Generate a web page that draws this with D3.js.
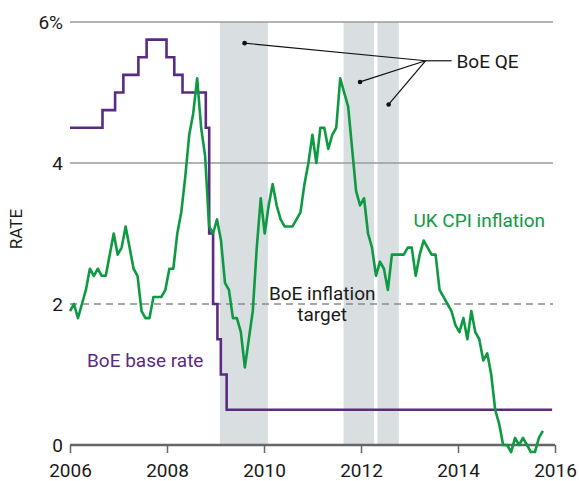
<html>
<head>
<meta charset="utf-8">
<style>
  body { margin: 0; background: #fff; }
  text { font-family: Roboto, "Noto Sans", sans-serif; }
</style>
</head>
<body>
<script src="https://cdnjs.cloudflare.com/ajax/libs/d3/7.8.5/d3.min.js"></script>
<script>
var width = 579;
var height = 481;

// UK CPI inflation, monthly Jan 2006 - Dec 2015 (%)
var cpi = [
  1.9, 2.0, 1.8, 2.0, 2.2, 2.5, 2.4, 2.5, 2.4, 2.4, 2.7, 3.0,
  2.7, 2.8, 3.1, 2.8, 2.5, 2.4, 1.9, 1.8, 1.8, 2.1, 2.1, 2.1,
  2.2, 2.5, 2.5, 3.0, 3.3, 3.8, 4.4, 4.7, 5.2, 4.5, 4.1, 3.1,
  3.0, 3.2, 2.9, 2.3, 2.2, 1.8, 1.8, 1.6, 1.1, 1.5, 1.9, 2.8,
  3.5, 3.0, 3.4, 3.7, 3.4, 3.2, 3.1, 3.1, 3.1, 3.2, 3.3, 3.7,
  4.0, 4.4, 4.0, 4.5, 4.5, 4.2, 4.4, 4.5, 5.2, 5.0, 4.8, 4.2,
  3.6, 3.4, 3.5, 3.0, 2.8, 2.4, 2.6, 2.5, 2.2, 2.7, 2.7, 2.7,
  2.7, 2.8, 2.8, 2.4, 2.7, 2.9, 2.8, 2.7, 2.7, 2.2, 2.1, 2.0,
  1.9, 1.7, 1.6, 1.8, 1.5, 1.9, 1.6, 1.5, 1.2, 1.3, 1.0, 0.5,
  0.3, 0.0, 0.0, -0.1, 0.1, 0.0, 0.1, 0.0, -0.1, -0.1, 0.1, 0.2
];

// BoE base rate: date of change (decimal year) and new rate
var rateDates = [2006.0, 2006.67, 2006.93, 2007.10, 2007.41, 2007.58, 2007.99, 2008.15, 2008.32,
                 2008.80, 2008.87, 2008.95, 2009.04, 2009.11, 2009.23, 2015.94];
var rateValues = [4.5, 4.75, 5.0, 5.25, 5.5, 5.75, 5.5, 5.25, 5.0,
                  4.5, 3.0, 2.0, 1.5, 1.0, 0.5, 0.5];

// QE periods
var qeStart = [2009.09, 2011.64, 2012.34];
var qeEnd = [2010.08, 2012.27, 2012.78];

var yTicks = [0, 2, 4, 6];
var xTicks = [2006, 2008, 2010, 2012, 2014, 2016];
var target = 2;

var green = "#0e9a43";
var purple = "#5b2a83";
var fs = "19px";

var svg = d3.select("body").append("svg")
  .attr("width", width)
  .attr("height", height);

var x = d3.scaleLinear().domain([2006, 2016]).range([70, 555]);
var y = d3.scaleLinear().domain([0, 6]).range([445, 22]);
// monthly points as drawn in the source run slightly short of the year ticks
var xm = d3.scaleLinear().domain([0, cpi.length - 1]).range([x(2006), x(2015.75)]);

// QE bands
svg.selectAll("rect.qe")
  .data(d3.zip(qeStart, qeEnd))
  .enter().append("rect")
  .attr("class", "qe")
  .attr("x", function(d) { return x(d[0]); })
  .attr("width", function(d) { return x(d[1]) - x(d[0]); })
  .attr("y", y(6))
  .attr("height", y(0) - y(6))
  .attr("fill", "#d9dfe1");

// gridlines
svg.selectAll("line.grid")
  .data(yTicks.filter(function(d) { return d > 0; }))
  .enter().append("line")
  .attr("class", "grid")
  .attr("x1", x(2006)).attr("x2", 553)
  .attr("y1", function(d) { return y(d); })
  .attr("y2", function(d) { return y(d); })
  .attr("stroke", function(d) { return d == target ? "#8a8a8a" : "#9a9a9a"; })
  .attr("stroke-width", 1.3)
  .attr("stroke-dasharray", function(d) { return d == target ? "7,5" : null; });

// y labels
svg.selectAll("text.ylab")
  .data(yTicks)
  .enter().append("text")
  .attr("class", "ylab")
  .attr("x", 63)
  .attr("y", function(d) { return y(d); })
  .attr("dy", "0.36em")
  .attr("text-anchor", "end")
  .style("font-size", fs)
  .attr("fill", "#1a1a1a")
  .text(function(d) { return d == 6 ? "6%" : d; });

svg.append("text")
  .attr("transform", "translate(22,229) rotate(-90)")
  .attr("text-anchor", "middle")
  .style("font-size", "17px")
  .attr("fill", "#1a1a1a")
  .text("RATE");

// x axis
var xAxis = svg.append("g")
  .attr("transform", "translate(0," + y(0) + ")")
  .call(d3.axisBottom(x).tickValues(xTicks).tickFormat(d3.format("d")).tickSize(8).tickPadding(11));
xAxis.select(".domain").attr("stroke", "#666").attr("stroke-width", 2.5).attr("d", "M" + x(2006) + ",0H" + x(2016));
xAxis.selectAll(".tick line").attr("stroke", "#666").attr("stroke-width", 1.5);
xAxis.selectAll(".tick text").style("font-size", fs).attr("fill", "#1a1a1a")
  .style("font-family", "Roboto, 'Noto Sans', sans-serif");

// base rate
var rateLine = d3.line()
  .x(function(d) { return x(d[0]); })
  .y(function(d) { return y(d[1]); })
  .curve(d3.curveStepAfter);
svg.append("path")
  .datum(d3.zip(rateDates, rateValues))
  .attr("d", rateLine)
  .attr("fill", "none")
  .attr("stroke", purple)
  .attr("stroke-width", 2.6);

// CPI
var cpiLine = d3.line()
  .x(function(d, i) { return xm(i); })
  .y(function(d) { return y(d); });
svg.append("path")
  .datum(cpi)
  .attr("d", cpiLine)
  .attr("fill", "none")
  .attr("stroke", green)
  .attr("stroke-width", 2.6)
  .attr("stroke-linejoin", "round");

// labels
svg.append("text")
  .attr("x", x(2013.08)).attr("y", 227)
  .style("font-size", fs)
  .attr("fill", green)
  .text("UK CPI inflation");
svg.append("text")
  .attr("x", x(2006.35)).attr("y", 367)
  .style("font-size", fs)
  .attr("fill", purple)
  .text("BoE base rate");
svg.append("text")
  .attr("x", x(2011.2)).attr("y", 300)
  .attr("text-anchor", "middle")
  .style("font-size", fs)
  .attr("fill", "#1a1a1a")
  .text("BoE inflation");
svg.append("text")
  .attr("x", x(2011.2)).attr("y", 321)
  .attr("text-anchor", "middle")
  .style("font-size", fs)
  .attr("fill", "#1a1a1a")
  .text("target");

// QE callout
var hub = [2013.33, 5.45];
var dots = [[2009.6, 5.7], [2011.98, 5.15], [2012.57, 4.83]];
svg.selectAll("line.call")
  .data(dots)
  .enter().append("line")
  .attr("class", "call")
  .attr("x1", x(hub[0])).attr("y1", y(hub[1]))
  .attr("x2", function(d) { return x(d[0]); })
  .attr("y2", function(d) { return y(d[1]); })
  .attr("stroke", "#111").attr("stroke-width", 1.2);
svg.append("line")
  .attr("x1", x(hub[0])).attr("y1", y(hub[1]))
  .attr("x2", x(2013.87)).attr("y2", y(hub[1]))
  .attr("stroke", "#111").attr("stroke-width", 1.2);
svg.selectAll("circle.call")
  .data(dots)
  .enter().append("circle")
  .attr("cx", function(d) { return x(d[0]); })
  .attr("cy", function(d) { return y(d[1]); })
  .attr("r", 2.3)
  .attr("fill", "#111");
svg.append("text")
  .attr("x", x(2013.97)).attr("y", y(hub[1]))
  .attr("dy", "0.36em")
  .style("font-size", fs)
  .attr("fill", "#1a1a1a")
  .text("BoE QE");
</script>
</body>
</html>
